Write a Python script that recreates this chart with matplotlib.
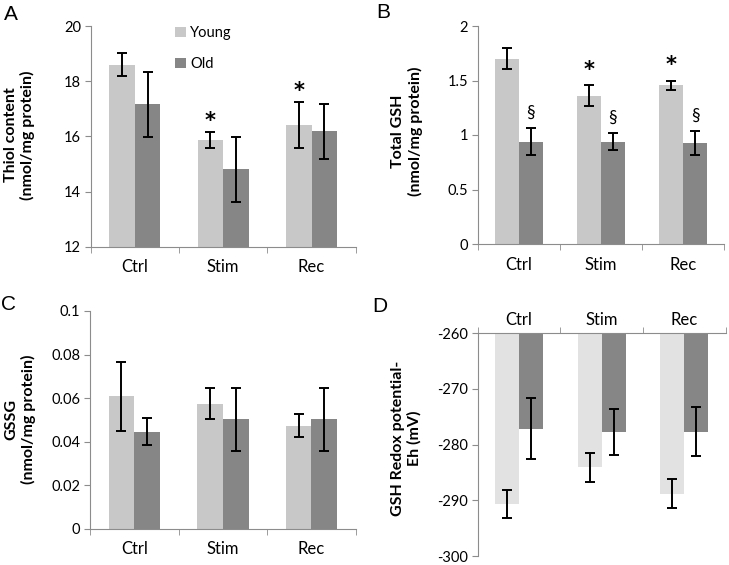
import matplotlib
matplotlib.use("Agg")
from matplotlib import pyplot as plt
import numpy as np

plt.rcParams['font.family'] = ['Lato', 'DejaVu Sans']
plt.rcParams['axes.unicode_minus'] = False

# Werte
cats = ['Ctrl', 'Stim', 'Rec']

thiol_young = [18.60, 15.87, 16.41]
thiol_young_err = [0.42, 0.29, 0.84]
thiol_old = [17.16, 14.80, 16.18]
thiol_old_err = [1.18, 1.18, 1.01]

gsh_young = [1.70, 1.36, 1.456]
gsh_young_err = [0.095, 0.095, 0.042]
gsh_old = [0.94, 0.94, 0.927]
gsh_old_err = [0.12, 0.076, 0.107]

gssg_young = [0.0609, 0.0575, 0.0474]
gssg_young_err = [0.0159, 0.0071, 0.0053]
gssg_old = [0.0446, 0.0503, 0.0503]
gssg_old_err = [0.0062, 0.0145, 0.0143]

eh_young = [-290.7, -284.1, -288.8]
eh_young_err = [2.5, 2.6, 2.6]
eh_old = [-277.1, -277.7, -277.7]
eh_old_err = [5.5, 4.1, 4.4]

thiol_marks = ['', '*', '*']
gsh_young_marks = ['', '*', '*']
gsh_old_marks = ['\u00a7', '\u00a7', '\u00a7']

W, H = 729, 565
young_col = '#c8c8c8'
young_col_d = '#e2e2e2'
old_col = '#868686'
axis_col = '#8c8c8c'
bw = 0.29

fig = plt.figure(figsize=(W / 100, H / 100), dpi=100)


def rect(x0, x1, ytop, ybot):
    return [x0 / W, 1 - ybot / H, (x1 - x0) / W, (ybot - ytop) / H]


def panel(r, young, yerr, old, oerr, ylim, yticks, ylabels, base=None, top=False, ycol=young_col):
    ax = fig.add_axes(r)
    x = np.arange(len(cats))
    if base is None:
        ax.bar(x - bw / 2, young, bw, color=ycol, edgecolor='none')
        ax.bar(x + bw / 2, old, bw, color=old_col, edgecolor='none')
    else:
        ax.bar(x - bw / 2, np.array(young) - base, bw, bottom=base, color=ycol, edgecolor='none')
        ax.bar(x + bw / 2, np.array(old) - base, bw, bottom=base, color=old_col, edgecolor='none')
    ek = dict(fmt='none', ecolor='black', elinewidth=1.4, capsize=3.6, capthick=1.4)
    ax.errorbar(x - bw / 2, young, yerr=yerr, **ek)
    ax.errorbar(x + bw / 2, old, yerr=oerr, **ek)
    ax.set_xlim(-0.5, len(cats) - 0.5)
    ax.set_ylim(*ylim)
    ax.set_yticks(yticks)
    ax.set_yticklabels(ylabels, fontsize=10.5)
    ax.set_xticks(x)
    ax.set_xticks(np.arange(len(cats) + 1) - 0.5, minor=True)
    for s in ax.spines.values():
        s.set_visible(False)
    ax.spines['left'].set_visible(True)
    ax.spines['left'].set_color(axis_col)
    side = 'top' if top else 'bottom'
    ax.spines[side].set_visible(True)
    ax.spines[side].set_color(axis_col)
    if top:
        ax.xaxis.tick_top()
    ax.set_xticklabels(cats, fontsize=12)
    ax.tick_params(axis='x', which='major', length=0, pad=4 if top else 9)
    ax.tick_params(axis='x', which='minor', length=4, color=axis_col, direction='out')
    ax.tick_params(axis='y', length=4, color=axis_col, pad=3)
    return ax


def marks(ax, xs, vals, errs, labels, off, size, fam, weight='normal'):
    for xi, v, e, t in zip(xs, vals, errs, labels):
        if t:
            ax.annotate(t, (xi, v + e), xytext=(0, off), textcoords='offset points',
                        ha='center', va='center', fontsize=size, family=fam, fontweight=weight)


x = np.arange(len(cats))

# A
axA = panel(rect(90.7, 355.7, 26, 246.7), thiol_young, thiol_young_err, thiol_old, thiol_old_err,
            (12, 20), [12, 14, 16, 18, 20], ['12', '14', '16', '18', '20'])
marks(axA, x - bw / 2, thiol_young, thiol_young_err, thiol_marks, 8, 15, 'DejaVu Sans', 'bold')
axA.legend(['Young', 'Old'], loc='upper left', bbox_to_anchor=(0.27, 1.06), frameon=False,
           fontsize=10.5, handlelength=0.7, handleheight=0.7, handletextpad=0.3, labelspacing=1.2)

# B
axB = panel(rect(477.7, 724.3, 26, 244), gsh_young, gsh_young_err, gsh_old, gsh_old_err,
            (0, 2), [0, 0.5, 1, 1.5, 2], ['0', '0.5', '1', '1.5', '2'])
marks(axB, x - bw / 2, gsh_young, gsh_young_err, gsh_young_marks, 11, 15, 'DejaVu Sans', 'bold')
marks(axB, x + bw / 2, gsh_old, gsh_old_err, gsh_old_marks, 11, 12.5, 'Lato')

# C
panel(rect(90, 355.7, 311, 529), gssg_young, gssg_young_err, gssg_old, gssg_old_err,
      (0, 0.1), [0, 0.02, 0.04, 0.06, 0.08, 0.1], ['0', '0.02', '0.04', '0.06', '0.08', '0.1'])

# D
panel(rect(477.7, 725.7, 333.3, 556), eh_young, eh_young_err, eh_old, eh_old_err,
      (-300, -260), [-300, -290, -280, -270, -260], ['-300', '-290', '-280', '-270', '-260'],
      base=-260, top=True, ycol=young_col_d)

ylab = dict(rotation=90, ha='center', va='center', fontsize=11.5, fontweight='bold',
            multialignment='center', linespacing=1.2)
fig.text(19.5 / W, 1 - 135 / H, 'Thiol content\n(nmol/mg protein)', **ylab)
fig.text(407 / W, 1 - 131 / H, 'Total GSH\n(nmol/mg protein)', **ylab)
fig.text(20 / W, 1 - 419 / H, 'GSSG\n(nmol/mg protein)', **ylab)
fig.text(406 / W, 1 - 438 / H, 'GSH Redox potential-\nEh (mV)', **ylab)

let = dict(ha='center', va='center', fontsize=15, family='Liberation Sans')
fig.text(10.5 / W, 1 - 15 / H, 'A', **let)
fig.text(383.5 / W, 1 - 12 / H, 'B', **let)
fig.text(9 / W, 1 - 305 / H, 'C', **let)
fig.text(380 / W, 1 - 307 / H, 'D', **let)

fig.savefig('out.png', dpi=100)
